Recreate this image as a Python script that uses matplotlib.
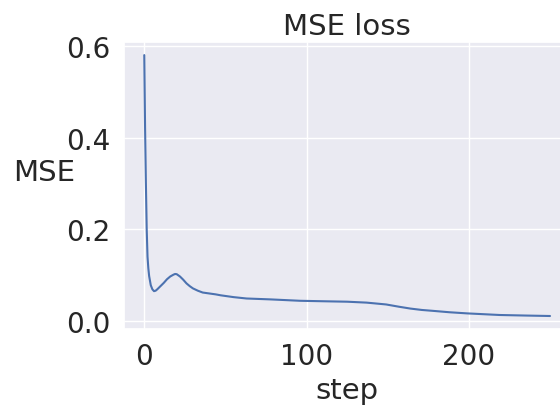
import matplotlib
matplotlib.use("Agg")
import matplotlib.pyplot as plt
import seaborn as sns

# MSE loss readings (step, value) taken off the curve
steps = [0, 0.5, 1, 1.5, 2, 2.5, 3, 4, 5, 6, 7, 8, 10, 12, 14, 16, 18, 19,
         20, 22, 24, 26, 28, 30, 33, 36, 40, 44, 47, 55, 63, 78, 96, 110,
         125, 137, 143, 149, 157, 164, 171, 178, 188, 199, 219, 235, 250]
mse = [0.58, 0.42, 0.30, 0.20, 0.14, 0.115, 0.098, 0.078, 0.069, 0.065,
       0.066, 0.069, 0.076, 0.083, 0.091, 0.097, 0.101, 0.1025, 0.102,
       0.097, 0.090, 0.082, 0.076, 0.071, 0.066, 0.062, 0.060, 0.058,
       0.056, 0.052, 0.049, 0.047, 0.044, 0.043, 0.042, 0.040, 0.038,
       0.036, 0.031, 0.027, 0.024, 0.022, 0.019, 0.0165, 0.013, 0.0118,
       0.0108]

sns.set_theme(style="darkgrid", font_scale=2)

fig = plt.figure(figsize=(5.6, 4.1), dpi=100)
ax = fig.add_axes([0.2214, 0.195, 0.797, 0.70])
ax.plot(steps, mse, color="#4c72b0", linewidth=1.5)
ax.set_title("MSE loss", fontsize=21)
ax.set_xlabel("step", fontsize=21)
ax.set_ylabel("MSE", rotation=0, fontsize=21, labelpad=16)
ax.tick_params(labelsize=20)
ax.set_yticks([0.0, 0.2, 0.4, 0.6])

fig.savefig("out.png", dpi=100)
